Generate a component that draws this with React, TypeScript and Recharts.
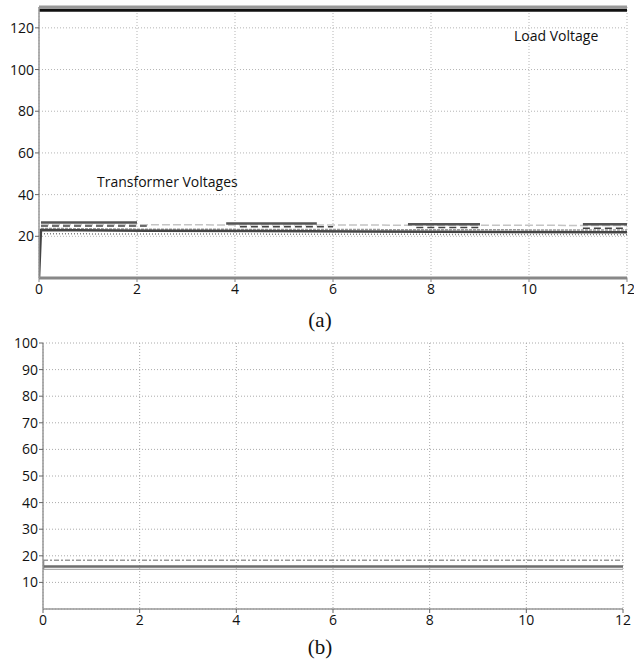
import React from 'react';
import {
  LineChart,
  Line,
  XAxis,
  YAxis,
  CartesianGrid,
  ReferenceLine,
} from 'recharts';

// ---------- shared axis ----------
const xTicks = [0, 2, 4, 6, 8, 10, 12];

// ---------- chart (a) ----------
const aYTicks = [20, 40, 60, 80, 100, 120];

const loadT = [0, 12];
const loadV = [128.4, 128.4];

const upperT = [0.04, 2.0, 2.01, 3.82, 5.67, 5.68, 7.53, 9.0, 9.01, 11.1, 12];
const upperV = [26.6, 26.6, null, 26.2, 26.2, null, 25.8, 25.8, null, 25.8, 25.8];

const dashT = [0.04, 2.2, 2.21, 4.1, 6.0, 6.01, 7.7, 9.0, 9.01, 11.1, 12];
const dashV = [25.0, 25.0, null, 24.6, 24.6, null, 24.2, 24.2, null, 23.9, 23.9];

const lightT = [0.04, 12];
const lightV = [25.6, 25.2];

const bandUpT = [0.04, 2.2, 12];
const bandUpV = [23.8, 23.4, 23.0];

const bandT = [0, 0.04, 2.2, 6.6, 12];
const bandV = [0, 23.0, 22.7, 22.3, 21.9];

const dotT = [0.04, 12];
const dotV = [21.2, 20.8];

// ---------- chart (b) ----------
const bYTicks = [10, 20, 30, 40, 50, 60, 70, 80, 90, 100];

const bTopT = [0, 12];
const bTopV = [18.3, 18.3];

const bMidT = [0, 0, 0, 12];
const bMidV = [14.9, 18.3, 16.0, 16.0];

const bLowT = [0, 12];
const bLowV = [14.9, 14.9];

const rows = (t: number[], v: (number | null)[]) => t.map((x, i) => ({ t: x, v: v[i] }));

const tickStyle = { fontFamily: '"Open Sans", sans-serif', fontSize: 14, fill: '#111' };

const captionStyle: React.CSSProperties = {
  position: 'absolute',
  left: 0,
  width: 640,
  textAlign: 'center',
  fontFamily: '"Liberation Serif", "Times New Roman", serif',
  fontSize: 21,
  color: '#111',
  lineHeight: '24px',
};

const labelStyle: React.CSSProperties = {
  position: 'absolute',
  fontFamily: '"Open Sans", sans-serif',
  fontSize: 14,
  color: '#111',
  whiteSpace: 'nowrap',
  lineHeight: '16px',
};

export default function App() {
  return (
    <div style={{ position: 'absolute', left: 0, top: 0, width: 634, height: 662, background: '#fff' }}>
      {/* (a) */}
      <div style={{ position: 'absolute', left: 0, top: 0 }}>
        <LineChart width={634} height={300} margin={{ top: 7, right: 7, left: 4, bottom: 0 }}>
          <CartesianGrid stroke="#b5b5b5" strokeDasharray="1 2" />
          <XAxis
            dataKey="t"
            type="number"
            domain={[0, 12]}
            ticks={xTicks}
            interval={0}
            allowDataOverflow
            tick={tickStyle}
            tickSize={4}
            tickMargin={2}
            height={22}
            axisLine={{ stroke: '#888', strokeWidth: 3 }}
            tickLine={{ stroke: '#888' }}
          />
          <YAxis
            type="number"
            domain={[0, 130]}
            ticks={aYTicks}
            interval={0}
            allowDataOverflow
            tick={tickStyle}
            tickSize={4}
            tickMargin={1}
            width={35}
            axisLine={{ stroke: '#999', strokeWidth: 1.5 }}
            tickLine={{ stroke: '#666' }}
          />
          <YAxis
            yAxisId="r"
            orientation="right"
            type="number"
            domain={[0, 130]}
            ticks={aYTicks}
            mirror
            tick={false}
            width={0}
            tickSize={4}
            axisLine={{ stroke: '#999', strokeWidth: 2 }}
            tickLine={{ stroke: '#666' }}
          />
          <ReferenceLine y={130} stroke="#999" strokeWidth={3} />
          <Line data={rows(lightT, lightV)} dataKey="v" stroke="#c4c4c4" strokeWidth={1.5} strokeDasharray="8 3" dot={false} isAnimationActive={false} />
          <Line data={rows(dotT, dotV)} dataKey="v" stroke="#777" strokeWidth={1.5} strokeDasharray="1 2" dot={false} isAnimationActive={false} />
          <Line data={rows(bandUpT, bandUpV)} dataKey="v" stroke="#999" strokeWidth={1.5} strokeDasharray="3 1" dot={false} isAnimationActive={false} />
          <Line data={rows(bandT, bandV)} dataKey="v" stroke="#444" strokeWidth={2.5} dot={false} isAnimationActive={false} />
          <Line data={rows(dashT, dashV)} dataKey="v" stroke="#444" strokeWidth={1.5} strokeDasharray="7 4" dot={false} isAnimationActive={false} />
          <Line data={rows(upperT, upperV)} dataKey="v" stroke="#555" strokeWidth={2.5} dot={false} isAnimationActive={false} />
          <Line data={rows(loadT, loadV)} dataKey="v" stroke="#111" strokeWidth={3} dot={false} isAnimationActive={false} />
        </LineChart>
        <div style={{ ...labelStyle, left: 514, top: 28 }}>Load Voltage</div>
        <div style={{ ...labelStyle, left: 97, top: 174 }}>Transformer Voltages</div>
      </div>
      <div style={{ ...captionStyle, top: 308 }}>(a)</div>

      {/* (b) */}
      <div style={{ position: 'absolute', left: 0, top: 326 }}>
        <LineChart width={634} height={305} margin={{ top: 17, right: 11, left: 4, bottom: 0 }}>
          <CartesianGrid stroke="#aaa" strokeDasharray="1 2" />
          <XAxis
            dataKey="t"
            type="number"
            domain={[0, 12]}
            ticks={xTicks}
            interval={0}
            allowDataOverflow
            tick={tickStyle}
            tickSize={4}
            tickMargin={2}
            height={22}
            axisLine={{ stroke: '#999', strokeWidth: 1.5 }}
            tickLine={{ stroke: '#666' }}
          />
          <XAxis
            xAxisId="top"
            orientation="top"
            dataKey="t"
            type="number"
            domain={[0, 12]}
            ticks={xTicks}
            mirror
            tick={false}
            height={0}
            tickSize={4}
            axisLine={{ stroke: '#aaa', strokeWidth: 1.5 }}
            tickLine={{ stroke: '#555' }}
          />
          <YAxis
            type="number"
            domain={[0, 100]}
            ticks={bYTicks}
            interval={0}
            allowDataOverflow
            tick={tickStyle}
            tickSize={4}
            tickMargin={1}
            width={39}
            axisLine={{ stroke: '#999', strokeWidth: 1.5 }}
            tickLine={{ stroke: '#666' }}
          />
          <YAxis
            yAxisId="r"
            orientation="right"
            type="number"
            domain={[0, 100]}
            ticks={bYTicks}
            mirror
            tick={false}
            width={0}
            tickSize={4}
            axisLine={{ stroke: '#999', strokeWidth: 1.5 }}
            tickLine={{ stroke: '#666' }}
          />
          <Line data={rows(bLowT, bLowV)} dataKey="v" stroke="#b0b0b0" strokeWidth={1.2} dot={false} isAnimationActive={false} />
          <Line data={rows(bTopT, bTopV)} dataKey="v" stroke="#9a9a9a" strokeWidth={1.5} strokeDasharray="5 2 2 2" dot={false} isAnimationActive={false} />
          <Line data={rows(bMidT, bMidV)} dataKey="v" stroke="#6e6e6e" strokeWidth={2.5} dot={false} isAnimationActive={false} />
        </LineChart>
      </div>
      <div style={{ ...captionStyle, top: 635 }}>(b)</div>
    </div>
  );
}
